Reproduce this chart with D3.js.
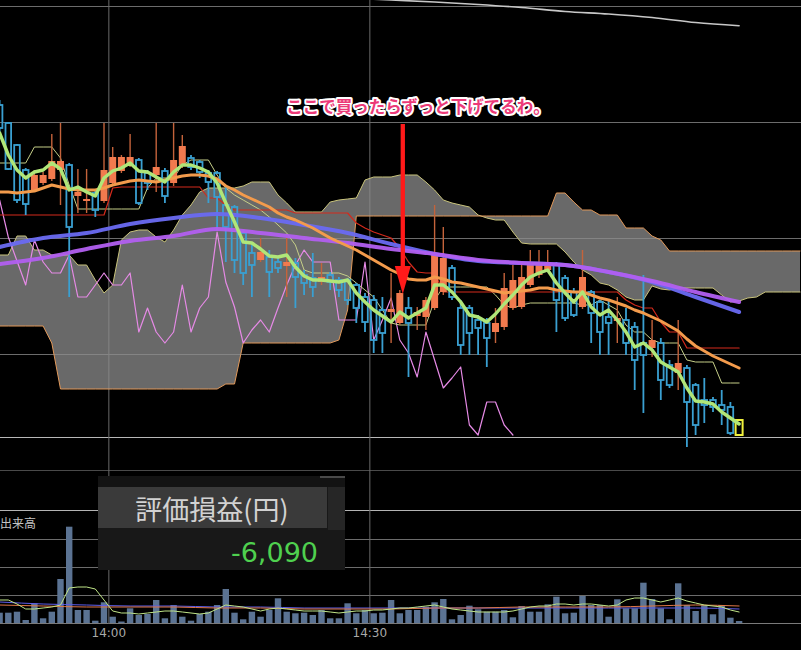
<!DOCTYPE html>
<html>
<head>
<meta charset="utf-8">
<style>
  body { margin: 0; background: #000; }
  svg { display: block; }
</style>
<script src="https://d3js.org/d3.v7.min.js"></script>
</head>
<body>
<svg width="801" height="650"></svg>
<script>
  // 1-minute bars, bar 0 = 13:47 (partly off the left edge)
  let opens = [
    395,377,355,330,310,317,321,330,335,304, 299,307,299,317,329,335,340,327,325,329,
    317,335,342,338,327,327,295,293,267,247, 240,243,238,234,237,225,222,218,225,220,
    220,215,203,200,190,188,177,192,184,183, 192,208,232,192,192,180,177,168,173,192,
    193,215,225,230,235,222,208,193,208,198, 183,179,180,173,157,152,157,135,127,132,
    115,100,100,95,93,80];
  let highs = [
    400,378,356,332,330,328,366,377,337,331, 331,310,377,353,345,366,342,330,377,332,
    377,365,345,340,330,329,313,295,270,257, 262,250,242,262,242,230,247,237,228,223,
    222,217,207,205,203,227,210,203,193,203, 295,273,235,200,195,185,182,192,227,235,
    237,250,250,250,238,225,212,250,210,200, 200,203,192,178,225,180,162,140,180,135,
    117,122,103,110,98,80];
  let lows = [
    365,330,297,285,308,315,319,295,203,287, 287,283,297,315,327,333,295,310,308,297,
    314,332,330,322,297,270,238,227,215,203, 238,203,227,203,192,205,203,215,210,203,
    195,177,168,147,147,157,175,123,170,170, 190,205,200,145,145,145,133,157,170,190,
    191,213,222,228,168,179,183,191,157,145, 145,157,145,110,87,143,100,112,110,53,
    65,77,88,75,65,65];
  let closes = [
    372,331,300,296,325,325,339,339,273,308, 301,290,330,343,343,343,297,317,333,304,
    340,354,333,328,318,303,273,240,227,235, 248,228,232,238,223,217,213,223,218,210,
    200,192,178,160,167,191,207,177,188,200, 245,242,203,155,167,172,162,177,212,220,
    223,235,237,238,200,182,185,223,187,168, 177,182,157,140,145,160,120,115,137,98,
    75,95,93,90,67,67];
  let volumes = [
    1030,1030,1130,300,1970,470,1130,4400,9630,1300, 1300,230,2070,630,150,1470,800,900,2300,470,
    1800,630,230,900,1130,1800,3400,1030,370,1130, 630,1300,2470,1130,970,1030,800,1300,470,470,
    1970,970,1300,970,1030,2300,970,1300,1300,1630, 2070,2400,370,800,1730,1370,1130,1130,1300,570,
    1700,1130,1130,1870,2630,970,1030,2700,1800,1800, 630,2370,1470,1470,4030,2400,1470,370,3970,1800,
    1200,1800,870,1800,530,200];

  // moving averages, one value per bar
  let maShort = [
    367,345,330,322,328,330,337,331,310,313, 308,304,322,329,332,337,329,328,323,318,
    328,335,335,332,328,317,297,278,258,257, 251,244,243,245,233,224,220,220,219,218,
    220,207,198,190,184,178,188,182,187,192, 215,215,208,198,185,183,178,186,196,205,
    215,223,227,230,217,207,198,208,193,185, 190,180,168,153,157,150,138,133,128,112,
    99,98,96,88,82,76];
  let maMid = [
    308,308,307,308,309,312,315,313,311,310, 310,310,312,315,317,319,320,319,318,320,
    322,324,325,325,324,321,314,310,305,301, 297,293,287,283,280,276,272,267,262,258,
    254,250,245,240,235,230,226,221,220,220, 223,221,218,217,215,213,211,209,207,208,
    209,210,212,212,210,209,208,208,205,202, 200,197,194,190,187,183,179,174,169,161,
    154,149,144,140,136,132];
  // long averages, one value every 5 bars
  let longStep = 5;
  let maLongA = [253,262,267,276,282,286,282,275,267,256,246,239,237,235,228,218,203,188];
  let maLongB = [236,242,251,259,264,271,267,262,257,251,246,240,237,235,228,219,208,198];
  let maVeryLongStart = 40;
  let maVeryLong = [502,500,498,495.5,492.5,488.5,486,482.5,477.5,474.3];

  // ichimoku
  let baseLine = [
    285,285,285,285,285,285,285,285,285,285, 285,285,285,312,313,313,313,313,313,313,
    313,313,313,313,302,302,295,290,290,290, 290,290,290,290,287,287,287,287,287,287,
    287,277,272,268,265,262,252,238,228,227, 227,208,208,208,208,208,208,208,208,208,
    208,208,208,208,208,208,208,208,208,208, 208,208,200,195,192,192,178,168,168,152,
    152,152,152,152,152,152];
  let convLine = [
    337,337,337,337,353,353,353,342,315,291, 291,291,291,291,291,291,291,312,322,322,
    322,335,340,340,340,325,312,305,300,295, 290,283,275,267,255,230,227,227,227,227,
    224,217,210,203,190,177,175,175,175,175, 200,213,213,213,213,213,213,205,195,192,
    195,197,197,197,197,197,197,195,195,200, 195,190,175,168,168,160,157,157,157,140,
    138,138,138,117,117,117];
  let laggingSpan = [
    300,263,239,215,260,238,227,227,245,203, 203,215,227,215,215,227,168,192,168,157,
    168,215,168,192,203,268,218,193,157,170, 180,168,192,215,235,250,238,238,238,180,
    180,180,238,160,180,202,160,147,123,168, 140,112,122,133,75,65,98,98,75,65];
  let spanA = [
    245,245,264,264,250,250,245,245,245,235, 235,220,207,215,260,268,270,270,263,258,
    270,285,295,308,312,312,312,312,314,318, 318,318,305,297,288,288,288,288,298,300,
    301,302,320,323,323,323,325,325,325,318, 310,300,297,295,293,285,282,280,280,268,
    257,256,256,256,256,248,238,230,225,217, 215,210,203,200,200,214,211,210,212,212,
    212,212,212,205,198,199,202,203,208,208, 208,208,208];
  let spanB = [
    174,174,174,174,174,174,157,111,111,111, 111,111,111,111,111,111,111,111,111,111,
    111,111,111,111,111,111,116,116,157,157, 157,157,157,157,157,157,157,157,157,160,
    190,284,284,284,284,284,284,284,284,284, 284,284,284,284,284,284,284,284,284,284,
    284,284,284,284,307,307,298,290,290,285, 285,285,272,272,272,264,260,249,249,249,
    249,249,249,249,249,249,249,249,249,249, 249,249,249];

  // volume averages
  let volMaShort = [
    2300,2300,1900,1400,1400,1500,1600,1800,3500,3600, 3600,3400,2300,1200,1000,1000,900,1000,1100,1200,
    1200,1100,1000,900,1000,1400,1800,1700,1600,1400, 1200,1400,1500,1400,1300,1200,1200,1200,1100,1000,
    1100,1200,1200,1300,1300,1400,1500,1500,1600,1700, 1800,1600,1400,1300,1200,1100,1100,1100,1100,1200,
    1400,1600,1700,1700,1900,1900,1800,1900,1900,1800, 1700,1800,2300,2500,2500,2300,2100,2300,2500,2200,
    2000,1800,1700,1600,1300,1100];
  let volMaMid = [1800,1700,1600,1600,1600,1500,1500,1400,1400,1400,1500,1500,1600,1600,1600,1700,1800,1700];
  let volMaLong = [2100,1900,1800,1700,1700,1600,1600,1500,1500,1500,1500,1500,1500,1500,1500,1500,1500,1400];

  let priceGrid = [494, 378, 262, 146];
  let priceFloor = 63;
  let volGrid = [2800, 5600, 8400];
  let volTop = 11300;
  let volFrame = 15300;
  let tickBars = [13, 43];
  let tickLabels = ["14:00", "14:30"];

  let svg = d3.select("svg"),
      width = +svg.attr("width"),
      height = +svg.attr("height");

  svg.append("rect").attr("width", width).attr("height", height).attr("fill", "#000");

  let x = d3.scaleLinear().domain([0, 85]).range([-0.4, 739.1]);
  let y = d3.scaleLinear().domain([0, 500]).range([500, 0]);
  let yv = d3.scaleLinear().domain([0, 15300]).range([623, 470]);

  function hline(yy, color) {
    svg.append("line").attr("x1", 0).attr("x2", width)
      .attr("y1", Math.round(yy) + 0.5).attr("y2", Math.round(yy) + 0.5)
      .attr("stroke", color).attr("stroke-width", 1);
  }

  priceGrid.forEach(p => hline(y(p), "#6c6c6c"));
  hline(y(priceFloor), "#b8b8b8");
  hline(yv(volFrame), "#4a4a4a");
  hline(yv(volTop), "#b4b4b4");
  volGrid.forEach(v => hline(yv(v), "#6c6c6c"));
  hline(yv(0), "#7a7a7a");

  // time axis with full-height grid lines
  let xAxis = d3.axisBottom(x)
    .tickValues(tickBars.map(b => b - 0.5))
    .tickFormat((d, i) => tickLabels[i])
    .tickSize(-624)
    .tickPadding(4);
  let ax = svg.append("g").attr("transform", "translate(0,624)").call(xAxis);
  ax.select(".domain").remove();
  ax.selectAll("line").attr("stroke", "#6a6a6a");
  ax.selectAll("text").attr("fill", "#a8a8a8")
    .style("font-family", "'DejaVu Sans', sans-serif").style("font-size", "12px");

  // cloud
  let cloud = spanA.map((a, i) => ({ i: i, a: a, b: spanB[i] }));
  svg.append("path").datum(cloud)
    .attr("d", d3.area().x(d => x(d.i)).y0(d => y(d.a)).y1(d => y(d.b)))
    .attr("fill", "#8c8c8c").attr("fill-opacity", 0.75);

  function drawLine(vals, color, w, opts) {
    opts = opts || {};
    let step = opts.step || 1, start = opts.start || 0, scale = opts.scale || y;
    let line = d3.line()
      .x((d, i) => x(start + i * step))
      .y(d => scale(d))
      .curve(opts.curve || d3.curveLinear);
    svg.append("path").datum(vals)
      .attr("d", line)
      .attr("fill", "none")
      .attr("stroke", color)
      .attr("stroke-width", w)
      .attr("stroke-linejoin", "round")
      .attr("stroke-linecap", "round")
      .attr("opacity", opts.opacity || 1);
  }

  drawLine(spanA, "#c9c47c", 1);
  drawLine(spanB, "#e2995a", 1);
  drawLine(laggingSpan, "#e68ae6", 1.2);
  drawLine(convLine, "#c6cf88", 1);
  drawLine(baseLine, "#d42a1c", 1.2);

  // candles
  let lastBar = opens.length - 1;
  let bars = opens.map((o, i) => ({ i: i, o: o, h: highs[i], l: lows[i], c: closes[i] }));
  let upBars = bars.filter(d => d.c >= d.o && d.i < lastBar);
  let downBars = bars.filter(d => d.c < d.o && d.i < lastBar);

  let gc = svg.append("g");
  gc.selectAll(".upwick").data(upBars).enter().append("line")
    .attr("x1", d => x(d.i)).attr("x2", d => x(d.i))
    .attr("y1", d => y(d.h)).attr("y2", d => y(d.l))
    .attr("stroke", "#c4633b").attr("stroke-width", 1.4);
  gc.selectAll(".upbody").data(upBars).enter().append("rect")
    .attr("x", d => x(d.i) - 3.5).attr("width", 7)
    .attr("y", d => y(d.c))
    .attr("height", d => Math.max(1.5, y(d.o) - y(d.c)))
    .attr("fill", "#f27a4e");

  gc.selectAll(".dnwick1").data(downBars).enter().append("line")
    .attr("x1", d => x(d.i)).attr("x2", d => x(d.i))
    .attr("y1", d => y(d.h)).attr("y2", d => y(d.o))
    .attr("stroke", "#3aa0d2").attr("stroke-width", 1.8);
  gc.selectAll(".dnwick2").data(downBars).enter().append("line")
    .attr("x1", d => x(d.i)).attr("x2", d => x(d.i))
    .attr("y1", d => y(d.c)).attr("y2", d => y(d.l))
    .attr("stroke", "#3aa0d2").attr("stroke-width", 1.8);
  gc.selectAll(".dnbody").data(downBars).enter().append("rect")
    .attr("x", d => x(d.i) - 2.8).attr("width", 5.6)
    .attr("y", d => y(d.o))
    .attr("height", d => Math.max(1.5, y(d.c) - y(d.o)))
    .attr("fill", "none").attr("stroke", "#3aa0d2").attr("stroke-width", 1.8);

  // current bar highlighted
  let cur = bars[lastBar];
  gc.append("rect")
    .attr("x", x(cur.i) - 3.5).attr("width", 7)
    .attr("y", y(Math.max(cur.o, cur.c)))
    .attr("height", y(Math.min(cur.l, cur.c)) - y(Math.max(cur.o, cur.c)))
    .attr("fill", "none").attr("stroke", "#f0f03c").attr("stroke-width", 2);

  // moving averages
  drawLine(maVeryLong, "#c8c8c8", 1.6, { step: longStep, start: maVeryLongStart, curve: d3.curveMonotoneX });
  drawLine(maLongA, "#6a6af2", 4, { step: longStep, curve: d3.curveMonotoneX, opacity: 0.95 });
  drawLine(maLongB, "#b25ff0", 4, { step: longStep, curve: d3.curveMonotoneX, opacity: 0.95 });
  drawLine(maMid, "#f39b4c", 3);
  drawLine(maShort, "#b0e678", 3.4);

  // volume
  let gv = svg.append("g");
  gv.selectAll("rect").data(volumes).enter().append("rect")
    .attr("x", (d, i) => x(i) - 3.2).attr("width", 6.4)
    .attr("y", d => yv(d)).attr("height", d => yv(0) - yv(d))
    .attr("fill", "#5b7393");
  drawLine(volMaLong, "#5d5dea", 1, { step: longStep, scale: yv, curve: d3.curveMonotoneX });
  drawLine(volMaMid, "#e07848", 1, { step: longStep, scale: yv, curve: d3.curveMonotoneX });
  drawLine(volMaShort, "#bfe487", 1, { scale: yv });

  svg.append("text").attr("x", 0).attr("y", 528)
    .attr("fill", "#c4c4c4")
    .style("font-family", "'Noto Sans CJK JP', sans-serif").style("font-size", "12px")
    .text("出来高");

  // P/L panel
  let pl = svg.append("g");
  pl.append("rect").attr("x", 98).attr("y", 476).attr("width", 247).attr("height", 94).attr("fill", "#181818");
  pl.append("rect").attr("x", 98).attr("y", 476).attr("width", 247).attr("height", 11).attr("fill", "#131313");
  pl.append("rect").attr("x", 320).attr("y", 476).attr("width", 25).attr("height", 2).attr("fill", "#4a4a4a");
  pl.append("rect").attr("x", 98).attr("y", 487).attr("width", 229).attr("height", 41).attr("fill", "#3a3a3a");
  pl.append("rect").attr("x", 328).attr("y", 487).attr("width", 17).attr("height", 43).attr("fill", "#262626");
  pl.append("text").attr("x", 212).attr("y", 520)
    .attr("text-anchor", "middle").attr("fill", "#d2d2d2")
    .style("font-family", "'Noto Sans CJK JP', sans-serif").style("font-size", "27px")
    .text("評価損益(円)");
  pl.append("text").attr("x", 318).attr("y", 562)
    .attr("text-anchor", "end").attr("fill", "#4fd04f")
    .style("font-family", "'DejaVu Sans', sans-serif").style("font-size", "27px")
    .text("-6,090");

  // annotation
  let ax0 = x(46) + 3;
  svg.append("line").attr("x1", ax0).attr("x2", ax0).attr("y1", 124).attr("y2", 272)
    .attr("stroke", "#ff1a1a").attr("stroke-width", 4.3);
  svg.append("path")
    .attr("d", d3.line()([[ax0 - 8, 266], [ax0 + 8, 266], [ax0, 294]]) + "Z")
    .attr("fill", "#ff1a1a");
  svg.append("text").attr("x", 418).attr("y", 113)
    .attr("text-anchor", "middle")
    .attr("fill", "#ec3a78").attr("stroke", "#fff").attr("stroke-width", 4)
    .attr("paint-order", "stroke").attr("stroke-linejoin", "round")
    .style("font-family", "'Noto Sans CJK JP', sans-serif").style("font-size", "16.5px")
    .style("font-weight", "bold")
    .text("ここで買ったらずっと下げてるわ。");
</script>
</body>
</html>
